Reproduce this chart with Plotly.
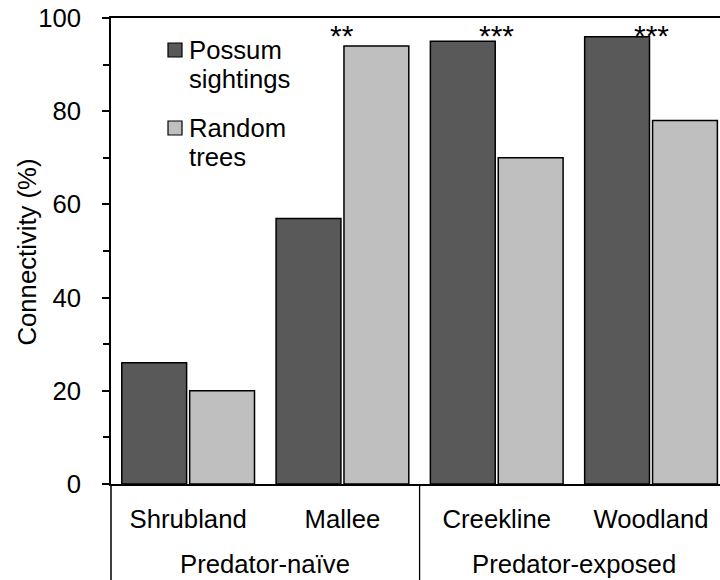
import plotly.graph_objects as go

# Connectivity of trees used by possums vs. randomly chosen trees, by habitat
habitats = ["Shrubland", "Mallee", "Creekline", "Woodland"]
series_names = ["Possum sightings", "Random trees"]
possum_sightings = [26, 57, 95, 96]
random_trees = [20, 94, 70, 78]
significance = ["", "**", "***", "***"]
groups = ["Predator-naïve", "Predator-exposed"]
group_centres = [0.5, 2.5]
group_divider = 1.5
y_ticks = [0, 20, 40, 60, 80, 100]

DARK = "#595959"
LIGHT = "#bfbfbf"
FONT = "Arial, Liberation Sans, sans-serif"
FS = 25.7

W, H = 720, 580
ML, MR, MT, MB = 111, 0, 18, 96
PW, PH = W - ML - MR, H - MT - MB


def px(x):
    return (x - ML) / PW


def py(y):
    return (H - MB - y) / PH


fig = go.Figure()
for name, vals, col in zip(series_names, [possum_sightings, random_trees], [DARK, LIGHT]):
    fig.add_trace(go.Bar(
        x=habitats, y=vals, name=name,
        marker=dict(color=col, line=dict(color="black", width=1.5)),
        showlegend=False,
    ))

# significance stars above each habitat pair
for h, s in zip(habitats, significance):
    if s:
        fig.add_annotation(x=h, y=100, xref="x", yref="y", text=s, showarrow=False,
                           yanchor="top", yshift=1,
                           font=dict(size=30, color="black", family=FONT))

# hand-placed legend: filled square plus wrapped label
legend_rows = [(50, 79), (128, 157)]
for name, col, (y1, y2) in zip(series_names, [DARK, LIGHT], legend_rows):
    fig.add_shape(type="rect", xref="paper", yref="paper",
                  x0=px(168), x1=px(182), y0=py(y1 - 7), y1=py(y1 + 7),
                  fillcolor=col, line=dict(color="black", width=1.2))
    for word, yy in zip(name.split(" "), (y1, y2)):
        fig.add_annotation(x=px(187), y=py(yy), xref="paper", yref="paper", text=word,
                           showarrow=False, xanchor="left", yanchor="middle",
                           font=dict(size=FS, color="black", family=FONT))

# second row of category labels and the dividers between groups
for g, c in zip(groups, group_centres):
    fig.add_annotation(x=c, y=py(564), xref="x", yref="paper", text=g, showarrow=False,
                       xanchor="center", yanchor="middle",
                       font=dict(size=FS, color="black", family=FONT))
fig.add_shape(type="line", xref="x", yref="paper", x0=group_divider, x1=group_divider,
              y0=0, y1=py(600), line=dict(color="black", width=1.3))
fig.add_shape(type="line", xref="paper", yref="paper", x0=0, x1=0,
              y0=0, y1=py(600), line=dict(color="black", width=1.5))

# y-axis title
fig.add_annotation(x=px(26), y=py(252.5), xref="paper", yref="paper", text="Connectivity (%)",
                   textangle=-90, showarrow=False, xanchor="center", yanchor="middle",
                   font=dict(size=FS, color="black", family=FONT))

fig.update_layout(
    width=W, height=H,
    margin=dict(l=ML, r=MR, t=MT, b=MB, pad=0),
    paper_bgcolor="white", plot_bgcolor="white",
    barmode="group", bargap=0.12, bargroupgap=0.045,
    font=dict(family=FONT, size=FS, color="black"),
    xaxis=dict(
        range=[-0.5, 3.447], showline=True, linecolor="black", linewidth=1.5,
        mirror=True, ticks="", showgrid=False, zeroline=False,
        ticklabelstandoff=11, tickfont=dict(size=FS, family=FONT, color="black"),
    ),
    yaxis=dict(
        range=[0, 100], tickvals=y_ticks, showline=True, linecolor="black",
        linewidth=1.5, ticks="outside", ticklen=7, tickwidth=1.5, tickcolor="black",
        showgrid=False, zeroline=False, ticklabelstandoff=16,
        tickfont=dict(size=FS, family=FONT, color="black"),
        minor=dict(dtick=10, ticks="outside", ticklen=6, tickwidth=1.5, tickcolor="black",
                   showgrid=False),
    ),
)

fig.write_html("out.html")
